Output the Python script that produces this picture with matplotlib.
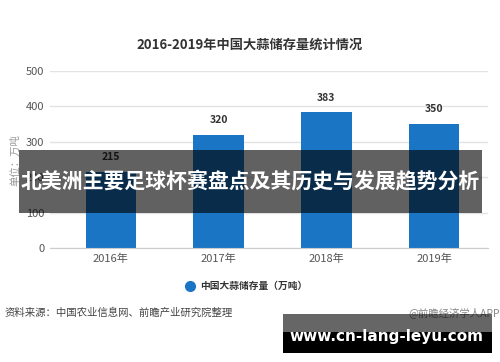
import matplotlib
matplotlib.use("Agg")
import matplotlib.pyplot as plt
from matplotlib.patches import Rectangle
from matplotlib.lines import Line2D

plt.rcParams['font.family'] = ['Noto Sans CJK SC', 'DejaVu Sans']

categories = ["2016年", "2017年", "2018年", "2019年"]
values = [215, 320, 383, 350]
yticks = [0, 100, 200, 300, 400, 500]
title = "2016-2019年中国大蒜储存量统计情况"
legend_label = "中国大蒜储存量（万吨）"
ylabel = "单位：万吨"
source = "资料来源：中国农业信息网、前瞻产业研究院整理"
brand = "@前瞻经济学人APP"
banner = "北美洲主要足球杯赛盘点及其历史与发展趋势分析"
site = "www.cn-lang-leyu.com"

W, H = 500, 362
fig = plt.figure(figsize=(W/100, H/100), dpi=100)
fig.patch.set_facecolor("white")

def fx(px): return px / W
def fy(py): return 1 - py / H

ax = fig.add_axes([fx(50), fy(248), fx(488) - fx(50), fy(71) - fy(248)])
bar_color = "#1a75c4"
x = list(range(len(categories)))
ax.bar(x, values, width=0.47, color=bar_color, zorder=3)
for xi, v in zip(x, values):
    ax.annotate(str(v), (xi, v), xytext=(0, 7), textcoords="offset points",
                ha="center", va="bottom", fontsize=7.5, fontweight="bold", color="#333333")
ax.set_ylim(0, 500)
ax.set_xlim(-0.566, 3.5)
ax.set_yticks(yticks)
ax.set_yticklabels([str(t) for t in yticks], fontsize=8, color="#555555")
ax.set_xticks(x)
ax.set_xticklabels(categories, fontsize=8, color="#555555")
ax.tick_params(axis="both", length=0, pad=4)
ax.grid(axis="y", color="#e3e3e3", linewidth=1, zorder=0)
for s in ["top", "right", "left"]:
    ax.spines[s].set_visible(False)
ax.spines["bottom"].set_color("#cccccc")
ax.spines["bottom"].set_zorder(4)

fig.text(fx(15), fy(160), ylabel, rotation=90, ha="center", va="center",
         fontsize=7.5, color="#999999")
fig.text(fx(250), fy(45), title, ha="center", va="center",
         fontsize=9.5, fontweight="bold", color="#333333")

# legend
fig.add_artist(Line2D([fx(190)], [fy(286)], marker="o", markersize=7,
                      color=bar_color, linestyle="none", transform=fig.transFigure))
fig.text(fx(200), fy(286), legend_label, ha="left", va="center",
         fontsize=7, fontweight="bold", color="#333333")

fig.text(fx(5), fy(313), source, ha="left", va="center", fontsize=7.5, color="#444444")
fig.text(fx(500), fy(313), brand, ha="right", va="center", fontsize=7.5, color="#888888")

# overlay banner
fig.add_artist(Rectangle((fx(19), fy(213)), fx(482) - fx(19), fy(150) - fy(213),
                         transform=fig.transFigure, facecolor="black", alpha=0.62,
                         edgecolor="none", zorder=10))
fig.text(fx(250), fy(182), banner, ha="center", va="center", fontsize=15,
         fontweight="bold", color="white", zorder=11)

# bottom banner
fig.add_artist(Rectangle((fx(283), fy(332)), fx(492) - fx(283), fy(314) - fy(332),
                         transform=fig.transFigure, facecolor="black", alpha=0.6,
                         edgecolor="none", zorder=10))
fig.add_artist(Rectangle((fx(283), fy(353)), fx(492) - fx(283), fy(332) - fy(353),
                         transform=fig.transFigure, facecolor="black",
                         edgecolor="none", zorder=10))
fig.text(fx(386), fy(337), site, ha="center", va="center", fontsize=11,
         fontweight="bold", color="white", family=["DejaVu Sans"], zorder=11)

fig.savefig("out.png", dpi=100)
